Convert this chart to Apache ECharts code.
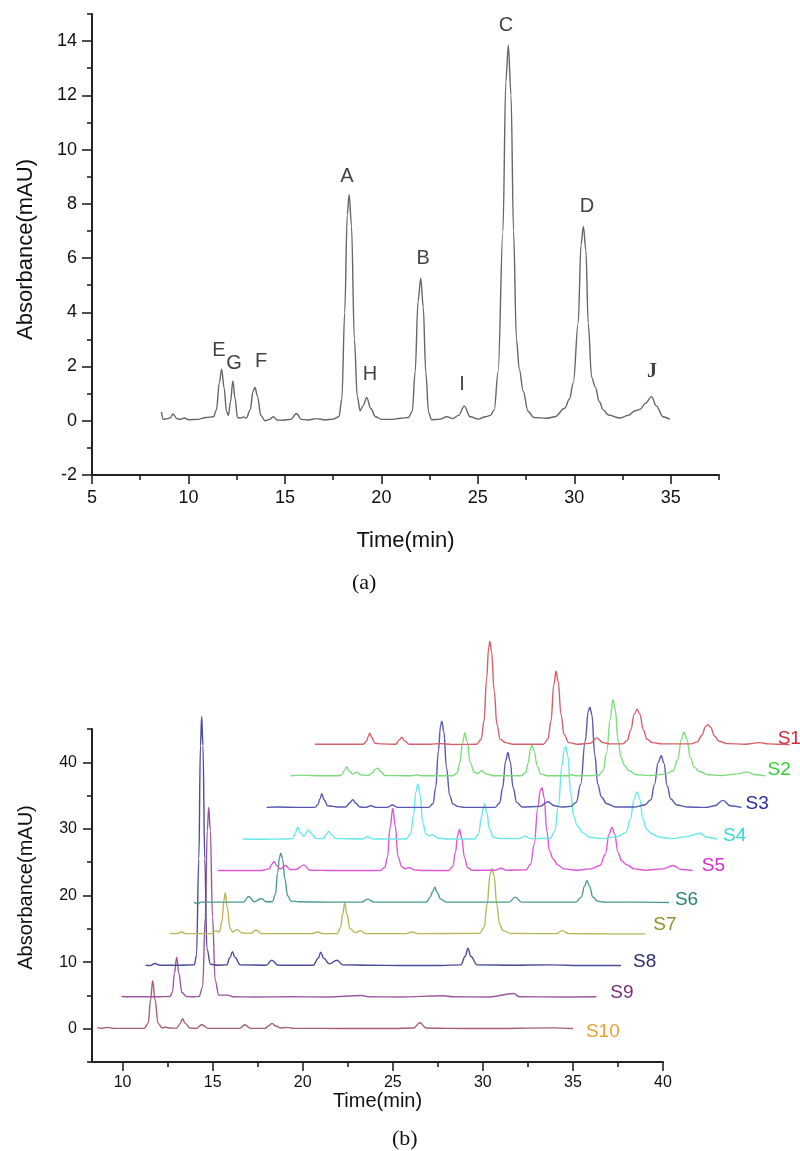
<!DOCTYPE html>
<html>
<head>
<meta charset="utf-8">
<title>HPLC chromatograms</title>
<script src="https://cdn.jsdelivr.net/npm/echarts@6/dist/echarts.min.js"></script>
<style>
  html, body { margin: 0; padding: 0; background: #fff; }
  #chart { width: 800px; height: 1151px; }
</style>
</head>
<body>
<div id="chart"></div>
<script>
// ---------- (a) single chromatogram, [time, absorbance] ----------
const traceA = [
  [8.6,0.33],[8.7,0.05],[8.9,0.08],[9.05,0.1],[9.2,0.25],[9.4,0.08],[9.6,0.05],[9.8,0.1],[10.0,0.04],
  [10.5,0.05],[10.9,0.12],[11.3,0.15],[11.45,0.4],[11.6,1.4],[11.72,1.9],[11.85,1.2],[11.97,0.35],
  [12.07,0.2],[12.18,0.7],[12.3,1.47],[12.42,0.8],[12.54,0.12],[12.7,0.1],[12.85,0.14],[13.0,0.1],
  [13.2,0.4],[13.35,1.1],[13.45,1.23],[13.58,0.9],[13.75,0.2],[13.97,0.0],[14.2,0.05],[14.4,0.15],
  [14.6,0.03],[14.9,0.02],[15.3,0.05],[15.6,0.27],[15.85,0.05],[16.2,0.03],[16.65,0.08],[17.1,0.03],
  [17.5,0.06],[17.8,0.15],[17.95,0.8],[18.1,4.0],[18.23,7.6],[18.33,8.35],[18.45,7.2],[18.6,3.0],
  [18.75,0.9],[18.9,0.37],[19.05,0.55],[19.24,0.86],[19.45,0.45],[19.7,0.15],[20.0,0.05],[20.5,0.05],
  [21.0,0.09],[21.4,0.12],[21.6,0.35],[21.75,1.8],[21.9,4.4],[22.04,5.26],[22.17,4.2],[22.3,1.8],
  [22.45,0.3],[22.6,0.04],[23.0,0.05],[23.4,0.15],[23.7,0.08],[24.0,0.2],[24.3,0.54],[24.6,0.15],
  [25.03,0.06],[25.4,0.15],[25.65,0.2],[25.85,0.4],[26.05,1.8],[26.3,7.0],[26.45,12.5],[26.58,13.85],
  [26.72,12.0],[26.85,7.0],[27.0,3.0],[27.15,1.9],[27.35,1.1],[27.6,0.35],[27.9,0.12],[28.57,0.09],
  [29.0,0.15],[29.5,0.46],[29.75,0.8],[29.95,1.4],[30.2,3.6],[30.35,6.5],[30.47,7.17],[30.6,6.3],
  [30.72,3.6],[30.9,1.6],[31.08,1.26],[31.3,0.7],[31.5,0.4],[31.77,0.21],[32.38,0.1],[32.8,0.2],
  [33.15,0.37],[33.4,0.42],[33.7,0.65],[34.0,0.89],[34.25,0.55],[34.6,0.15],[34.95,0.05]
];
const peakNames = ['E', 'G', 'F', 'A', 'H', 'B', 'I', 'C', 'D', 'J'];
const peakLabelTime = [11.58, 12.36, 13.76, 18.22, 19.41, 22.16, 24.18, 26.46, 30.66, 34.03];
const peakLabelAbs = [2.61, 2.13, 2.17, 9.01, 1.69, 5.98, 1.32, 14.59, 7.9, 1.8];

// ---------- (b) ten samples, each in its own time frame ----------
const s1 = [
  [8.61,0.05],[9.3,0.05],[10.5,0.05],[11.3,0.05],[11.48,0.5],[11.57,1.2],[11.66,1.7],[11.77,1.1],[11.95,0.2],
  [12.3,0.1],[13.1,0.05],[13.3,0.7],[13.44,1.1],[13.58,0.6],[13.85,0.05],[15.0,0.05],[15.6,0.15],[16.2,0.02],
  [17.6,0.05],[17.85,0.8],[18.0,3.5],[18.15,10.0],[18.26,14.5],[18.33,15.5],[18.42,14.0],[18.57,8.0],
  [18.72,3.0],[18.9,0.8],[19.2,0.3],[19.6,0.05],[21.3,0.05],[21.55,0.8],[21.72,3.5],[21.88,9.0],[22.0,11.0],
  [22.12,9.5],[22.28,4.5],[22.45,1.5],[22.7,0.3],[23.2,0.05],[23.9,0.2],[24.27,1.0],[24.6,0.3],[25.0,0.1],
  [25.7,0.1],[25.95,0.6],[26.15,2.2],[26.35,4.6],[26.5,5.3],[26.65,4.6],[26.85,2.2],[27.05,0.8],[27.35,0.3],
  [27.9,0.1],[29.5,0.1],[29.85,0.4],[30.1,1.4],[30.3,2.7],[30.44,3.0],[30.58,2.6],[30.8,1.3],[31.05,0.5],
  [31.5,0.15],[32.5,0.05],[33.3,0.3],[33.8,0.1],[34.4,0.05],[34.97,0.0]
];
const s2 = [
  [8.61,0.05],[9.3,0.15],[10.2,0.05],[11.3,0.05],[11.48,0.3],[11.6,0.9],[11.72,1.4],[11.85,0.8],[12.05,0.3],
  [12.28,0.6],[12.5,0.2],[12.9,0.1],[13.15,0.5],[13.3,1.0],[13.45,1.2],[13.6,0.7],[13.85,0.1],[15.3,0.05],
  [15.6,0.2],[15.9,0.05],[17.6,0.05],[17.85,0.5],[18.0,2.0],[18.15,5.0],[18.28,6.5],[18.4,5.2],[18.58,2.0],
  [18.8,0.6],[19.0,0.4],[19.2,0.8],[19.5,0.3],[19.9,0.05],[21.4,0.05],[21.65,0.5],[21.8,2.0],[21.92,4.0],
  [22.0,4.7],[22.12,3.8],[22.3,1.5],[22.5,0.3],[22.9,0.05],[24.0,0.05],[24.2,0.2],[24.5,0.05],[25.7,0.1],
  [25.95,0.8],[26.15,3.5],[26.35,8.5],[26.5,11.5],[26.63,10.0],[26.78,5.5],[26.95,2.8],[27.15,1.6],[27.4,0.8],
  [27.8,0.2],[28.6,0.1],[29.4,0.3],[29.85,0.8],[30.1,2.5],[30.3,5.5],[30.45,6.6],[30.6,5.6],[30.8,2.8],
  [31.0,1.4],[31.3,0.7],[31.8,0.2],[32.5,0.1],[33.3,0.3],[33.95,0.6],[34.4,0.2],[34.97,0.05]
];
const s3 = [
  [8.62,0.05],[9.2,0.1],[10.5,0.05],[11.3,0.05],[11.45,0.4],[11.57,1.3],[11.68,2.1],[11.8,1.2],[12.0,0.3],
  [12.3,0.2],[12.6,0.1],[13.0,0.1],[13.22,0.7],[13.4,1.2],[13.55,0.7],[13.8,0.1],[14.1,0.05],[14.4,0.3],
  [14.7,0.05],[15.3,0.05],[15.6,0.4],[15.9,0.05],[17.6,0.05],[17.85,0.6],[18.0,3.0],[18.15,8.5],[18.27,12.3],
  [18.34,13.0],[18.45,11.5],[18.6,6.0],[18.78,1.8],[18.95,0.6],[19.2,0.2],[19.6,0.05],[21.3,0.05],[21.55,0.7],
  [21.72,3.0],[21.88,7.0],[22.01,8.3],[22.13,7.0],[22.3,3.0],[22.5,0.8],[22.8,0.1],[23.8,0.2],[24.22,0.9],
  [24.6,0.3],[25.0,0.1],[25.5,0.2],[25.8,0.8],[26.05,3.5],[26.3,10.0],[26.47,14.5],[26.56,15.1],[26.67,14.0],
  [26.83,8.0],[27.0,3.5],[27.2,1.6],[27.5,0.6],[28.0,0.1],[29.0,0.1],[29.6,0.4],[29.95,1.2],[30.15,3.5],
  [30.35,6.8],[30.52,7.8],[30.67,6.7],[30.85,3.3],[31.05,1.3],[31.4,0.4],[32.0,0.1],[33.0,0.05],[33.5,0.3],
  [33.95,1.1],[34.35,0.3],[34.98,0.05]
];
const s4 = [
  [8.63,0.05],[9.5,0.0],[11.0,0.05],[11.4,0.1],[11.55,1.0],[11.68,1.8],[11.82,1.0],[12.0,0.5],[12.29,1.4],
  [12.45,0.8],[12.7,0.1],[13.1,0.1],[13.26,0.7],[13.4,1.2],[13.54,0.7],[13.8,0.1],[15.3,0.05],[15.56,0.4],
  [15.85,0.05],[17.7,0.05],[17.95,0.8],[18.1,3.5],[18.25,7.2],[18.35,8.3],[18.47,6.8],[18.62,2.5],[18.8,0.8],
  [19.0,0.5],[19.16,0.7],[19.45,0.2],[20.0,0.05],[21.5,0.05],[21.72,0.8],[21.88,3.3],[22.0,5.0],[22.06,5.3],
  [22.18,4.0],[22.33,1.5],[22.55,0.3],[23.0,0.1],[24.0,0.1],[24.29,0.5],[24.6,0.1],[25.7,0.15],[25.95,1.2],
  [26.15,5.0],[26.35,11.0],[26.48,13.5],[26.56,13.9],[26.68,12.5],[26.83,7.0],[27.0,3.5],[27.2,2.0],[27.5,1.0],
  [27.9,0.3],[28.6,0.1],[29.4,0.4],[29.9,1.0],[30.15,3.0],[30.35,6.0],[30.52,7.1],[30.67,6.0],[30.85,3.0],
  [31.05,1.5],[31.35,0.8],[31.8,0.3],[32.5,0.1],[33.3,0.4],[34.01,0.9],[34.4,0.3],[34.96,0.05]
];
const s5 = [
  [8.58,0.05],[9.5,0.05],[11.0,0.05],[11.45,0.3],[11.58,1.0],[11.7,1.4],[11.85,0.8],[12.05,0.3],[12.35,0.8],
  [12.6,0.2],[12.9,0.2],[13.36,0.9],[13.7,0.1],[15.0,0.05],[17.6,0.05],[17.85,0.5],[18.0,2.0],[18.15,6.5],
  [18.3,9.4],[18.43,6.8],[18.6,2.0],[18.8,0.6],[19.0,0.3],[19.2,0.5],[19.5,0.15],[20.0,0.05],[21.4,0.05],
  [21.62,0.6],[21.78,2.8],[21.9,5.3],[22.0,6.2],[22.12,5.0],[22.28,2.0],[22.45,0.5],[22.7,0.1],[24.0,0.1],
  [24.3,0.4],[24.6,0.1],[25.7,0.15],[25.95,1.0],[26.15,4.0],[26.35,9.5],[26.48,12.0],[26.58,12.5],[26.7,11.0],
  [26.85,6.0],[27.0,3.0],[27.2,1.8],[27.45,0.9],[27.8,0.3],[28.5,0.1],[29.3,0.3],[29.8,0.8],[30.1,2.5],
  [30.3,5.5],[30.47,6.5],[30.62,5.5],[30.8,2.8],[31.0,1.5],[31.3,0.9],[31.7,0.3],[32.3,0.1],[33.3,0.3],
  [33.85,0.8],[34.3,0.2],[34.95,0.05]
];
const s6 = [
  [8.6,0.05],[8.8,-0.2],[9.0,0.05],[10.5,0.05],[11.35,0.05],[11.64,0.9],[11.95,0.1],[12.34,0.6],[12.6,0.1],
  [12.95,0.1],[13.12,1.2],[13.25,4.5],[13.35,6.8],[13.42,7.4],[13.52,6.5],[13.65,3.5],[13.8,1.0],[14.0,0.2],
  [14.4,0.1],[16.0,0.05],[17.9,0.05],[18.24,0.5],[18.6,0.05],[21.5,0.05],[21.72,0.8],[21.85,1.6],[21.97,2.3],
  [22.1,1.5],[22.3,0.5],[22.6,0.05],[26.1,0.05],[26.44,0.8],[26.8,0.05],[29.8,0.05],[30.1,0.8],[30.28,2.4],
  [30.42,3.3],[30.56,2.4],[30.75,0.8],[31.0,0.2],[31.4,0.05],[33.0,0.05],[34.97,0.0]
];
const s7 = [
  [8.6,0.1],[9.0,0.05],[9.25,0.3],[9.5,0.05],[10.5,0.05],[10.9,0.05],[11.18,0.5],[11.35,0.3],[11.5,2.0],
  [11.6,5.0],[11.68,6.2],[11.78,4.0],[11.95,0.8],[12.1,0.3],[12.33,0.7],[12.6,0.15],[13.1,0.1],[13.38,0.6],
  [13.7,0.05],[15.0,0.05],[16.5,0.05],[16.78,0.3],[17.1,0.05],[17.9,0.05],[18.08,1.0],[18.2,3.0],[18.31,4.7],
  [18.43,3.0],[18.6,0.8],[18.9,0.2],[19.18,0.5],[19.5,0.05],[21.7,0.05],[22.03,0.3],[22.4,0.05],[25.8,0.1],
  [26.05,1.0],[26.22,4.5],[26.38,9.0],[26.48,9.8],[26.6,8.8],[26.75,4.5],[26.9,1.5],[27.1,0.5],[27.5,0.1],
  [29.0,0.05],[30.05,0.05],[30.38,0.5],[30.75,0.05],[33.0,0.02],[35.0,0.02]
];
const s8 = [
  [8.6,0.05],[8.85,0.0],[9.1,0.3],[9.4,0.05],[10.5,0.05],[11.3,0.1],[11.42,1.5],[11.55,16.0],[11.64,33.0],
  [11.71,37.4],[11.78,33.0],[11.88,16.0],[12.0,2.5],[12.2,0.2],[12.6,0.05],[13.1,0.1],[13.28,1.2],[13.42,2.1],
  [13.56,1.2],[13.85,0.1],[15.3,0.05],[15.6,0.8],[15.95,0.05],[17.9,0.05],[18.18,1.1],[18.32,2.0],[18.48,1.1],
  [18.8,0.25],[19.22,0.8],[19.55,0.1],[21.0,0.05],[23.0,0.0],[25.0,0.02],[26.1,0.1],[26.34,1.4],[26.49,2.6],
  [26.65,1.4],[27.0,0.1],[29.0,0.05],[31.0,0.1],[33.0,0.0],[34.99,0.02]
];
const s9 = [
  [8.6,0.1],[9.0,0.05],[10.5,0.05],[11.3,0.1],[11.42,0.7],[11.54,3.6],[11.66,6.0],[11.78,3.6],[11.95,0.7],
  [12.2,0.1],[12.6,0.05],[12.9,0.1],[13.1,1.5],[13.25,12.0],[13.36,25.0],[13.44,28.5],[13.53,25.0],[13.65,12.0],
  [13.8,2.5],[14.0,0.3],[14.46,0.3],[14.8,0.05],[16.0,0.02],[18.0,0.05],[20.0,0.02],[21.96,0.25],[22.3,0.05],
  [24.0,0.02],[26.46,0.2],[27.0,0.05],[29.0,0.02],[30.36,0.55],[30.7,0.05],[33.0,0.02],[34.96,0.05]
];
const s10 = [
  [8.6,0.2],[8.8,0.05],[9.17,0.2],[9.5,0.05],[10.5,0.05],[11.2,0.05],[11.42,0.8],[11.55,4.3],[11.67,7.2],
  [11.8,4.3],[11.97,0.8],[12.2,0.1],[12.35,0.25],[12.6,0.1],[13.0,0.08],[13.2,0.8],[13.33,1.5],[13.47,0.8],
  [13.75,0.08],[14.1,0.05],[14.39,0.6],[14.75,0.05],[15.5,0.05],[16.5,0.05],[16.78,0.6],[17.1,0.05],
  [17.9,0.05],[18.12,0.45],[18.3,0.8],[18.5,0.4],[18.8,0.1],[19.1,0.2],[19.5,0.05],[21.0,0.05],[23.0,0.02],
  [25.0,0.02],[26.15,0.1],[26.5,0.9],[26.85,0.1],[28.0,0.05],[30.0,0.02],[33.9,0.12],[35.0,0.02]
];
const samples = [s1, s2, s3, s4, s5, s6, s7, s8, s9, s10];
const sampleNames = ['S1', 'S2', 'S3', 'S4', 'S5', 'S6', 'S7', 'S8', 'S9', 'S10'];

// tick values
const ticksAx = [5, 10, 15, 20, 25, 30, 35];
const minorAx = [7.5, 12.5, 17.5, 22.5, 27.5, 32.5, 37.5];
const ticksAy = [-2, 0, 2, 4, 6, 8, 10, 12, 14];
const minorAy = [-1, 1, 3, 5, 7, 9, 11, 13, 15];
const ticksBx = [10, 15, 20, 25, 30, 35, 40];
const minorBx = [12.5, 17.5, 22.5, 27.5, 32.5, 37.5];
const ticksBy = [0, 10, 20, 30, 40];
const minorBy = [-5, 5, 15, 25, 35, 45];

// waterfall offset between neighbouring traces
const xShift = 1.34;
const yShift = 4.74;

// styles
const lineColors = ['#d6606a', '#7ddc7d', '#5858b0', '#6ae8e8', '#dc58d6', '#4a9a90',
                    '#b8b858', '#4c4c9c', '#9c589c', '#a4606e'];
const labelColors = ['#cc2c3c', '#38d038', '#2c2c9e', '#30d8d8', '#dc2ad0', '#2a8072',
                     '#8f8f2a', '#2c2c6e', '#7a2a7a', '#e8a038'];
const labelOffsets = [[-12, -6], [2, -6], [4, -4], [6, -3], [9, -5], [6, -3], [8, -9], [12, -4], [14, -4], [13, 3]];

const FONT = '"Liberation Sans", Arial, sans-serif';
const SERIF = '"Liberation Serif", "Times New Roman", serif';
const AXIS_COLOR = '#222';

// panel (b) geometry: visible axes stop at 40 min, the traces run on past it
const B_LEFT = 92, B_BOTTOM = 1062, B_WIDTH = 571, B_HEIGHT = 333;
const B_XMIN = 8.3, B_XMAX = 40, B_YMIN = -5, B_YMAX = 45;
const B_XMAX_DATA = 47.3, B_YMAX_DATA = 60;
const pxPerMin = B_WIDTH / (B_XMAX - B_XMIN);
const pxPerAbs = B_HEIGHT / (B_YMAX - B_YMIN);
const dataWidth = (B_XMAX_DATA - B_XMIN) * pxPerMin;
const dataHeight = (B_YMAX_DATA - B_YMIN) * pxPerAbs;

function mainAxis(gridIndex, min, max, labels, ticks, fontSize, margin, tickLen, name, nameGap, nameSize, pos, namePad) {
  return {
    type: 'value', gridIndex, min, max, position: pos,
    name, nameLocation: 'middle', nameGap,
    nameTextStyle: { fontFamily: FONT, fontSize: nameSize, color: '#111', padding: namePad || 0 },
    axisLine: { show: true, onZero: false, lineStyle: { color: AXIS_COLOR, width: 2 } },
    axisTick: { show: true, inside: false, length: tickLen, customValues: ticks,
                lineStyle: { color: AXIS_COLOR, width: 1.6 } },
    axisLabel: { show: true, customValues: labels, margin, fontFamily: FONT, fontSize, color: '#111' },
    splitLine: { show: false }
  };
}

function minorAxis(gridIndex, min, max, ticks, pos) {
  return {
    type: 'value', gridIndex, min, max, position: pos,
    axisLine: { show: false, onZero: false },
    axisTick: { show: true, inside: false, length: 5, customValues: ticks,
                lineStyle: { color: AXIS_COLOR, width: 1.6 } },
    axisLabel: { show: false },
    splitLine: { show: false }
  };
}

function hiddenAxis(gridIndex, min, max) {
  return { type: 'value', gridIndex, min, max, show: false, splitLine: { show: false } };
}

const sampleSeries = samples.map((trace, i) => {
  const k = samples.length - 1 - i;
  return {
    name: sampleNames[i],
    type: 'line',
    xAxisIndex: 4, yAxisIndex: 4,
    data: trace.map(p => [p[0] + k * xShift, p[1] + k * yShift]),
    showSymbol: false,
    smooth: 0.4,
    smoothMonotone: 'x',
    clip: false,
    z: 2 + k,
    lineStyle: { color: lineColors[i], width: 1.4 },
    endLabel: {
      show: true,
      formatter: sampleNames[i],
      distance: 0,
      offset: labelOffsets[i],
      fontFamily: FONT,
      fontSize: 19,
      color: labelColors[i]
    }
  };
});

const chart = echarts.init(document.getElementById('chart'), null, { renderer: 'canvas' });
chart.setOption({
  animation: false,
  backgroundColor: '#fff',
  grid: [
    { left: 92, top: 14, width: 627, height: 461, outerBoundsMode: 'none', containLabel: false },
    { left: B_LEFT, top: B_BOTTOM - B_HEIGHT, width: B_WIDTH, height: B_HEIGHT, outerBoundsMode: 'none', containLabel: false },
    { left: B_LEFT, top: B_BOTTOM - dataHeight, width: dataWidth, height: dataHeight, outerBoundsMode: 'none', containLabel: false }
  ],
  xAxis: [
    mainAxis(0, 5, 37.5, ticksAx, ticksAx, 18, 14, 9, 'Time(min)', 55, 22, 'bottom'),
    minorAxis(0, 5, 37.5, minorAx, 'bottom'),
    mainAxis(1, B_XMIN, B_XMAX, ticksBx, ticksBx, 16, 13, 9, 'Time(min)', 26, 20, 'bottom'),
    minorAxis(1, B_XMIN, B_XMAX, minorBx, 'bottom'),
    hiddenAxis(2, B_XMIN, B_XMAX_DATA)
  ],
  yAxis: [
    mainAxis(0, -2, 15, ticksAy, ticksAy, 18, 15, 10, 'Absorbance(mAU)', 55, 22, 'left', [0, 10, 0, 0]),
    minorAxis(0, -2, 15, minorAy, 'left'),
    mainAxis(1, B_YMIN, B_YMAX, ticksBy, ticksBy, 16, 15, 9, 'Absorbance(mAU)', 56, 20, 'left', [0, 0, 0, 16]),
    minorAxis(1, B_YMIN, B_YMAX, minorBy, 'left'),
    hiddenAxis(2, B_YMIN, B_YMAX_DATA)
  ],
  graphic: [
    { type: 'text', left: 352, top: 572, style: { text: '(a)', font: '22px ' + SERIF, fill: '#111' } },
    { type: 'text', left: 392, top: 1128, style: { text: '(b)', font: '22px ' + SERIF, fill: '#111' } }
  ],
  series: [
    {
      type: 'line',
      xAxisIndex: 0, yAxisIndex: 0,
      data: traceA,
      showSymbol: false,
      smooth: 0.35,
      smoothMonotone: 'x',
      lineStyle: { color: '#666', width: 1.4 }
    },
    {
      type: 'scatter',
      xAxisIndex: 0, yAxisIndex: 0,
      symbolSize: 0,
      silent: true,
      data: peakNames.map((n, i) => ({
        name: n,
        value: [peakLabelTime[i], peakLabelAbs[i]],
        label: n === 'J' ? { fontFamily: SERIF, fontWeight: 'bold' } : {}
      })),
      label: {
        show: true, position: 'inside', formatter: '{b}',
        fontFamily: FONT, fontSize: 20, color: '#111'
      }
    }
  ].concat(sampleSeries)
});
</script>
</body>
</html>
